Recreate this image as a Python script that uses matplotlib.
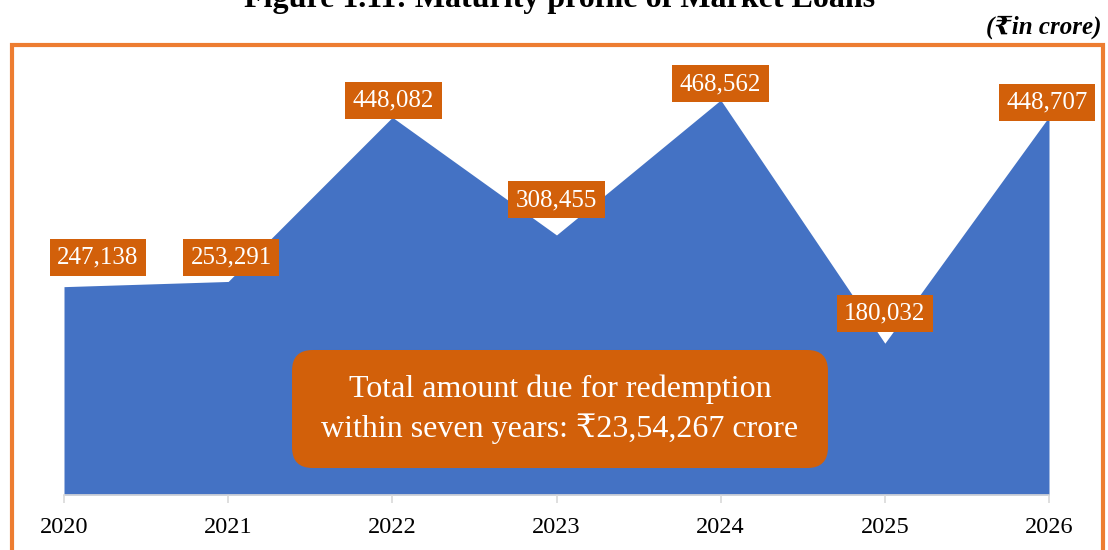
import matplotlib
matplotlib.use("Agg")
import matplotlib.pyplot as plt
from matplotlib.patches import Rectangle, FancyBboxPatch

plt.rcParams['font.family'] = ['Liberation Serif', 'DejaVu Serif', 'DejaVu Sans']

years = [2020, 2021, 2022, 2023, 2024, 2025, 2026]
loans = [247138, 253291, 448082, 308455, 468562, 180032, 448707]
# label nudges (pixels) so the boxes sit where the original puts them
lab_dx = [34, 3, 1, 0, 0, 0, -2]
lab_dy = [29, 24, 17, 35, 16, 30, 14]

area_blue = '#4472C4'
lab_orange = '#D2600A'
border = '#ED7D31'

fig = plt.figure(figsize=(11.08, 5.5), dpi=100)
ax = fig.add_axes([64 / 1108, 0.1, (1049 - 64) / 1108, 0.7664])

ax.fill_between(years, loans, 0, color=area_blue, lw=0)
ax.set_xlim(2020, 2026)
ax.set_ylim(0, 500000)
ax.set_yticks([])
for s in ['left', 'right', 'top']:
    ax.spines[s].set_visible(False)
ax.spines['bottom'].set_color('#D9D9D9')
ax.spines['bottom'].set_linewidth(1.2)
ax.set_xticks(years)
ax.set_xticklabels([str(y) for y in years], fontsize=17.5)
ax.tick_params(axis='x', length=6, color='#D9D9D9', width=1.2, pad=10)

for x, v, dx, dy in zip(years, loans, lab_dx, lab_dy):
    ax.annotate(f'{v:,}', (x, v), xytext=(dx, dy), textcoords='offset pixels',
                ha='center', va='center', fontsize=18, color='white',
                bbox=dict(boxstyle='square,pad=0.3', fc=lab_orange, ec='none'))

# rounded note box
box = FancyBboxPatch((0.2315, 0.064), 0.5441, 0.28,
                     boxstyle='round,pad=0,rounding_size=0.021',
                     mutation_aspect=2.337, fc=lab_orange, ec='none',
                     transform=ax.transAxes)
ax.add_patch(box)
ax.text(0.5035, 0.204, 'Total amount due for redemption\nwithin seven years: \u20b923,54,267 crore',
        transform=ax.transAxes, ha='center', va='center', fontsize=23,
        color='white', linespacing=1.4)

# outer orange frame (runs past bottom edge)
fig.patches.append(Rectangle((12 / 1108, -0.1), (1103 - 12) / 1108, 1.1 - 45 / 550,
                             transform=fig.transFigure, fill=False, ec=border, lw=3))

fig.text(0.505, 1 - 7 / 550, 'Figure 1.11: Maturity profile of Market Loans',
         ha='center', va='baseline', fontsize=23, fontweight='bold')
fig.text(1101 / 1108, 1 - 27 / 550, '(\u20b9in crore)', ha='right', va='center',
         fontsize=18, fontweight='bold', fontstyle='italic')

fig.savefig('out.png', dpi=100)
